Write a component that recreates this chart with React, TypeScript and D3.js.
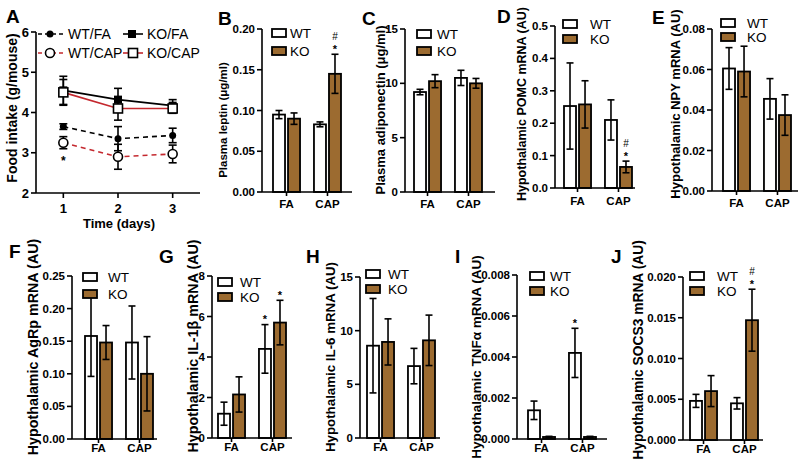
import React from "react";
import * as d3 from "d3";

const FONT = "'Liberation Sans', Arial, Helvetica, sans-serif";
const KO_BROWN = "#9c6b30";
const RED = "#c4282e";

// ---- panel A: food intake over time ----
const days = [1, 2, 3];
const wtFaIntake = [3.65, 3.35, 3.43];
const wtFaErr = [0.07, 0.3, 0.18];
const wtCapIntake = [3.25, 2.9, 2.97];
const wtCapErr = [0.15, 0.31, 0.22];
const koFaIntake = [4.55, 4.32, 4.17];
const koFaErr = [0.35, 0.28, 0.15];
const koCapIntake = [4.5, 4.1, 4.1];
const koCapErr = [0.32, 0.29, 0.12];
const intakeTicks = [2, 3, 4, 5, 6];

// ---- bar panels ----
const groups = ["FA", "CAP"];
const genotypes = ["WT", "KO"];

const leptinWT = [0.095, 0.083];
const leptinWTErr = [0.005, 0.003];
const leptinKO = [0.09, 0.145];
const leptinKOErr = [0.007, 0.024];
const leptinKOSig = ["", "#*"];

const adipoWT = [9.2, 10.5];
const adipoWTErr = [0.25, 0.7];
const adipoKO = [10.2, 10.0];
const adipoKOErr = [0.6, 0.45];

const pomcWT = [0.253, 0.21];
const pomcWTErr = [0.133, 0.062];
const pomcKO = [0.258, 0.065];
const pomcKOErr = [0.073, 0.018];
const pomcKOSig = ["", "#*"];

const npyWT = [0.0605, 0.0455];
const npyWTErr = [0.0103, 0.01];
const npyKO = [0.059, 0.0375];
const npyKOErr = [0.0125, 0.01];

const agrpWT = [0.158, 0.148];
const agrpWTErr = [0.062, 0.056];
const agrpKO = [0.148, 0.1];
const agrpKOErr = [0.026, 0.057];

const il1bWT = [1.2, 4.4];
const il1bWTErr = [0.57, 1.2];
const il1bKO = [2.15, 5.7];
const il1bKOErr = [0.87, 1.1];
const il1bWTSig = ["", "*"];
const il1bKOSig = ["", "*"];

const il6WT = [8.6, 6.7];
const il6WTErr = [4.4, 1.65];
const il6KO = [8.95, 9.1];
const il6KOErr = [2.15, 2.35];

const tnfWT = [0.0014, 0.0042];
const tnfWTErr = [0.00045, 0.0012];
const tnfKO = [0.0001, 0.0001];
const tnfKOErr = [0.00003, 0.00003];
const tnfWTSig = ["", "*"];

const socsWT = [0.0048, 0.0045];
const socsWTErr = [0.0008, 0.0007];
const socsKO = [0.006, 0.0147];
const socsKOErr = [0.0019, 0.0038];
const socsKOSig = ["", "#*"];

const noSig = ["", ""];

// layout of each bar panel (positions in px)
const panels = [
  { letter: "B", lx: 218, ly: 25, x0: 262, x1: 352, yTop: 29, yBot: 192, max: 0.2, step: 0.05, fmt: ".2f", off: 11,
    ylabel: "Plasma leptin (\u03bcg/ml)", ylx: 223, yly: 120, yls: 11.5, leg: [272, 29, 47, 290], catDy: 16,
    wt: leptinWT, wtErr: leptinWTErr, wtSig: noSig, ko: leptinKO, koErr: leptinKOErr, koSig: leptinKOSig },
  { letter: "C", lx: 362, ly: 25, x0: 405, x1: 495, yTop: 29, yBot: 192, max: 15, step: 5, fmt: "d", off: 9,
    ylabel: "Plasma adiponectin (\u03bcg/ml)", ylx: 380, yly: 110, yls: 13, leg: [417, 30, 47, 437], catDy: 16,
    wt: adipoWT, wtErr: adipoWTErr, wtSig: noSig, ko: adipoKO, koErr: adipoKOErr, koSig: noSig },
  { letter: "D", lx: 497, ly: 23, x0: 555, x1: 635, yTop: 26, yBot: 188, max: 0.5, step: 0.1, fmt: ".1f", off: 9,
    ylabel: "Hypothalamic POMC mRNA (AU)", ylx: 522, yly: 104, yls: 12.5, leg: [563, 20, 35, 590], catDy: 17,
    wt: pomcWT, wtErr: pomcWTErr, wtSig: noSig, ko: pomcKO, koErr: pomcKOErr, koSig: pomcKOSig },
  { letter: "E", lx: 652, ly: 24, x0: 712, x1: 798, yTop: 29, yBot: 191, max: 0.08, step: 0.02, fmt: ".2f", off: 11,
    ylabel: "Hypothalamic NPY mRNA (AU)", ylx: 675, yly: 104, yls: 13, leg: [721, 19, 33, 747], catDy: 16,
    wt: npyWT, wtErr: npyWTErr, wtSig: noSig, ko: npyKO, koErr: npyKOErr, koSig: noSig },
  { letter: "F", lx: 9, ly: 258, x0: 72, x1: 157, yTop: 276, yBot: 439, max: 0.25, step: 0.05, fmt: ".2f", off: 13,
    ylabel: "Hypothalamic AgRp mRNA (AU)", ylx: 33, yly: 347, yls: 14.3, leg: [83, 273, 290, 108], catDy: 13,
    wt: agrpWT, wtErr: agrpWTErr, wtSig: noSig, ko: agrpKO, koErr: agrpKOErr, koSig: noSig },
  { letter: "G", lx: 159, ly: 263, x0: 212, x1: 292, yTop: 276, yBot: 438, max: 8, step: 2, fmt: "d", off: 6,
    ylabel: "Hypothalamic IL-1\u03b2 mRNA (AU)", ylx: 193, yly: 346, yls: 14.3, leg: [218, 278, 293, 240], catDy: 13,
    wt: il1bWT, wtErr: il1bWTErr, wtSig: il1bWTSig, ko: il1bKO, koErr: il1bKOErr, koSig: il1bKOSig },
  { letter: "H", lx: 306, ly: 263, x0: 360, x1: 440, yTop: 277, yBot: 438, max: 15, step: 5, fmt: "d", off: 7,
    ylabel: "Hypothalamic IL-6 mRNA (AU)", ylx: 330, yly: 357, yls: 13.3, leg: [366, 270, 285, 388], catDy: 13,
    wt: il6WT, wtErr: il6WTErr, wtSig: noSig, ko: il6KO, koErr: il6KOErr, koSig: noSig },
  { letter: "I", lx: 455, ly: 263, x0: 517, x1: 607, yTop: 275, yBot: 439, max: 0.008, step: 0.002, fmt: ".3f", off: 11,
    ylabel: "Hypothalamic TNF\u03b1 mRNA (AU)", ylx: 476, yly: 357, yls: 13.5, leg: [530, 272, 287, 550], catDy: 13,
    wt: tnfWT, wtErr: tnfWTErr, wtSig: tnfWTSig, ko: tnfKO, koErr: tnfKOErr, koSig: noSig },
  { letter: "J", lx: 611, ly: 263, x0: 683, x1: 763, yTop: 277, yBot: 440, max: 0.02, step: 0.005, fmt: ".3f", off: 7,
    ylabel: "Hypothalamic SOCS3 mRNA (AU)", ylx: 638, yly: 350, yls: 13.8, leg: [690, 272, 287, 717], catDy: 13,
    wt: socsWT, wtErr: socsWTErr, wtSig: noSig, ko: socsKO, koErr: socsKOErr, koSig: socsKOSig },
];

const Legend = ({ leg }) => {
  const [lx, y1, y2, tx] = leg;
  return (
    <g>
      <rect x={lx} y={y1} width={14} height={8} fill="#fff" stroke="#000" strokeWidth={1.8} />
      <rect x={lx} y={y2} width={14} height={8} fill={KO_BROWN} stroke="#000" strokeWidth={1.8} />
      <text x={tx} y={y1 + 9} fontSize={13.5} fontFamily={FONT}>WT</text>
      <text x={tx} y={y2 + 9} fontSize={13.5} fontFamily={FONT}>KO</text>
    </g>
  );
};

const BarPanel = ({ p }) => {
  const y = d3.scaleLinear().domain([0, p.max]).range([p.yBot, p.yTop]);
  const ticks = d3.range(0, p.max + p.step / 2, p.step);
  const fmt = d3.format(p.fmt);
  const xg = d3.scaleBand().domain(groups).range([p.x0 + p.off, p.x0 + p.off + 68]).paddingInner(0.34);
  const xs = d3.scaleBand().domain(genotypes).range([0, xg.bandwidth()]).paddingInner(0.2);
  const series = { WT: [p.wt, p.wtErr, p.wtSig], KO: [p.ko, p.koErr, p.koSig] };

  return (
    <g fontFamily={FONT}>
      <text x={p.lx} y={p.ly} fontSize={19} fontWeight="bold">{p.letter}</text>
      {groups.map((g, i) =>
        genotypes.map((k) => {
          const [vals, errs, sig] = series[k];
          const v = vals[i];
          const e = errs[i];
          const bw = xs.bandwidth();
          const bx = xg(g) + xs(k);
          const cx = bx + bw / 2;
          const top = y(v + e);
          const bot = y(v - e);
          return (
            <g key={g + k}>
              <rect x={bx} y={y(v)} width={bw} height={p.yBot - y(v)}
                fill={k === "WT" ? "#fff" : KO_BROWN} stroke="#000" strokeWidth={1.8} />
              <g stroke="#000" strokeWidth={1.6}>
                <line x1={cx} x2={cx} y1={bot} y2={top} />
                <line x1={cx - 3.5} x2={cx + 3.5} y1={top} y2={top} />
                <line x1={cx - 3.5} x2={cx + 3.5} y1={bot} y2={bot} />
              </g>
              {sig[i].includes("*") && (
                <text x={cx} y={top - 1.5} fontSize={11} fontWeight="bold" textAnchor="middle">*</text>
              )}
              {sig[i].includes("#") && (
                <text x={cx} y={top - 14} fontSize={10} textAnchor="middle">#</text>
              )}
            </g>
          );
        })
      )}
      {/* axes */}
      <g stroke="#000" strokeWidth={1.6}>
        <line x1={p.x0} x2={p.x0} y1={p.yTop} y2={p.yBot} />
        <line x1={p.x0} x2={p.x1} y1={p.yBot} y2={p.yBot} />
        {ticks.map((t) => (
          <line key={t} x1={p.x0 - 5} x2={p.x0} y1={y(t)} y2={y(t)} />
        ))}
        {groups.map((g) => (
          <line key={g} x1={xg(g) + xg.bandwidth() / 2} x2={xg(g) + xg.bandwidth() / 2} y1={p.yBot} y2={p.yBot + 4} />
        ))}
      </g>
      {ticks.map((t) => (
        <text key={t} x={p.x0 - 7} y={y(t)} dy="0.35em" fontSize={11.5} fontWeight="bold" textAnchor="end">
          {fmt(t)}
        </text>
      ))}
      {groups.map((g) => (
        <text key={g} x={xg(g) + xg.bandwidth() / 2} y={p.yBot + p.catDy} fontSize={11.5} fontWeight="bold" textAnchor="middle">
          {g}
        </text>
      ))}
      <text transform={`translate(${p.ylx},${p.yly}) rotate(-90)`} fontSize={p.yls} fontWeight="bold"
        textAnchor="middle" dominantBaseline="central">
        {p.ylabel}
      </text>
      <Legend leg={p.leg} />
    </g>
  );
};

const Marker = ({ kind, x, y }) => {
  if (kind === "dot") return <circle cx={x} cy={y} r={3.5} fill="#000" />;
  if (kind === "ring") return <circle cx={x} cy={y} r={4.5} fill="#fff" stroke="#000" strokeWidth={1.6} />;
  if (kind === "sq") return <rect x={x - 4} y={y - 4} width={8} height={8} fill="#000" />;
  return <rect x={x - 4.5} y={y - 4.5} width={9} height={9} fill="#fff" stroke="#000" strokeWidth={1.6} />;
};

const PanelA = () => {
  const x = d3.scaleLinear().domain([0.5, 3.5]).range([36, 200]);
  const y = d3.scaleLinear().domain([2, 6]).range([193, 32]);
  const series = [
    { name: "WT/FA", mean: wtFaIntake, err: wtFaErr, color: "#000", dash: "5,4", marker: "dot" },
    { name: "WT/CAP", mean: wtCapIntake, err: wtCapErr, color: RED, dash: "5,4", marker: "ring" },
    { name: "KO/FA", mean: koFaIntake, err: koFaErr, color: "#000", dash: null, marker: "sq" },
    { name: "KO/CAP", mean: koCapIntake, err: koCapErr, color: RED, dash: null, marker: "box" },
  ];
  const line = d3.line().x((d) => x(d[0])).y((d) => y(d[1]));
  const legendPos = [
    { lx1: 38, lx2: 63, mx: 50, ly: 34, tx: 68 },
    { lx1: 38, lx2: 63, mx: 50, ly: 53, tx: 68 },
    { lx1: 123, lx2: 143, mx: 132, ly: 34, tx: 147 },
    { lx1: 123, lx2: 143, mx: 133, ly: 53, tx: 147 },
  ];
  return (
    <g fontFamily={FONT}>
      <text x={6} y={23} fontSize={19} fontWeight="bold">A</text>
      {series.map((s) => (
        <path key={s.name} d={line(days.map((d, i) => [d, s.mean[i]]))} fill="none"
          stroke={s.color} strokeWidth={1.6} strokeDasharray={s.dash || undefined} />
      ))}
      {series.map((s) =>
        days.map((d, i) => {
          const cx = x(d);
          const t = y(s.mean[i] + s.err[i]);
          const b = y(s.mean[i] - s.err[i]);
          return (
            <g key={s.name + d} stroke="#000" strokeWidth={1.6}>
              <line x1={cx} x2={cx} y1={b} y2={t} />
              <line x1={cx - 4} x2={cx + 4} y1={t} y2={t} />
              <line x1={cx - 4} x2={cx + 4} y1={b} y2={b} />
            </g>
          );
        })
      )}
      {series.map((s) =>
        days.map((d, i) => <Marker key={s.name + d} kind={s.marker} x={x(d)} y={y(s.mean[i])} />)
      )}
      <text x={x(1)} y={y(wtCapIntake[0] - wtCapErr[0]) + 16} fontSize={12} fontWeight="bold" textAnchor="middle">*</text>
      {/* axes */}
      <g stroke="#000" strokeWidth={1.6}>
        <line x1={36} x2={36} y1={y(6)} y2={y(2)} />
        <line x1={36} x2={200} y1={y(2)} y2={y(2)} />
        {intakeTicks.map((t) => <line key={t} x1={31} x2={36} y1={y(t)} y2={y(t)} />)}
        {days.map((d) => <line key={d} x1={x(d)} x2={x(d)} y1={y(2)} y2={y(2) + 5} />)}
      </g>
      {intakeTicks.map((t) => (
        <text key={t} x={29} y={y(t)} dy="0.35em" fontSize={13} fontWeight="bold" textAnchor="end">{t}</text>
      ))}
      {days.map((d) => (
        <text key={d} x={x(d)} y={213} fontSize={13} fontWeight="bold" textAnchor="middle">{d}</text>
      ))}
      <text x={119} y={228} fontSize={13} fontWeight="bold" textAnchor="middle">Time (days)</text>
      <text transform="translate(12,108) rotate(-90)" fontSize={14} fontWeight="bold" textAnchor="middle"
        dominantBaseline="central">Food intake (g/mouse)</text>
      {/* legend */}
      {series.map((s, i) => {
        const l = legendPos[i];
        return (
          <g key={s.name}>
            <line x1={l.lx1} x2={l.lx2} y1={l.ly} y2={l.ly} stroke={s.color} strokeWidth={1.6}
              strokeDasharray={s.dash ? "4,3" : undefined} />
            <Marker kind={s.marker} x={l.mx} y={l.ly} />
            <text x={l.tx} y={l.ly + 5} fontSize={14}>{s.name}</text>
          </g>
        );
      })}
    </g>
  );
};

export default function App() {
  return (
    <svg width={800} height={469} style={{ position: "absolute", left: 0, top: 0, background: "#fff" }}>
      <rect width={800} height={469} fill="#fff" />
      <PanelA />
      {panels.map((p) => <BarPanel key={p.letter} p={p} />)}
    </svg>
  );
}
